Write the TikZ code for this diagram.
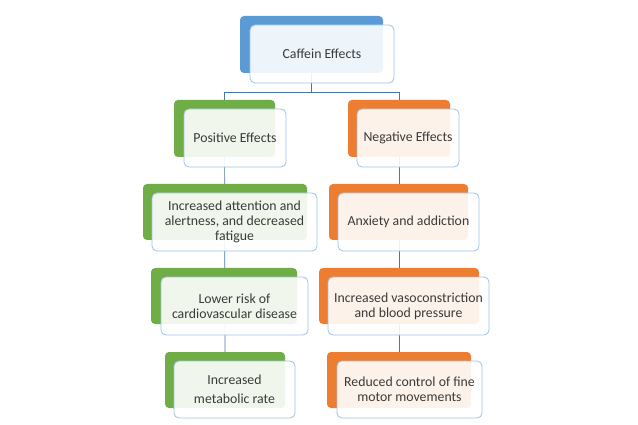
\documentclass[tikz,border=0pt]{standalone}
\usepackage{fontspec}
\setmainfont{Carlito}
\usetikzlibrary{backgrounds}
\definecolor{accblue}{HTML}{5B9BD5}
\definecolor{accgreen}{HTML}{70AD47}
\definecolor{accorange}{HTML}{ED7D31}
\definecolor{frontline}{HTML}{9DC3E6}
\definecolor{conn}{HTML}{4A78A6}
\definecolor{txt}{HTML}{3A3A3A}
\tikzset{
  backbox/.style={fill=#1, draw=none, rounded corners=4pt, inner sep=0pt, outer sep=0pt, anchor=north west},
  frontbox/.style={fill=white, fill opacity=0.9, text opacity=1, draw=frontline, line width=0.8pt,
    rounded corners=5pt, inner sep=0pt, outer sep=0pt, anchor=north west, align=center, text=txt,
    font=\fontsize{13.8}{15}\selectfont},
  connector/.style={draw=conn, line width=0.7pt}
}
\begin{document}
\begin{tikzpicture}[x=1pt,y=-1pt]
\useasboundingbox (0,0) rectangle (638,425);
% top
\node[backbox=accblue, minimum width=143pt, minimum height=57pt] (b0) at (240,16) {};
\node[frontbox, minimum width=144pt, minimum height=58pt] (f0) at (250,25) {Caffein Effects};
% level 1
\node[backbox=accgreen, minimum width=101pt, minimum height=57pt] (b1) at (174,100) {};
\node[frontbox, minimum width=102pt, minimum height=58pt] (f1) at (184,109) {Positive Effects};
\node[backbox=accorange, minimum width=102pt, minimum height=57pt] (b2) at (348,100) {};
\node[frontbox, minimum width=102pt, minimum height=58pt] (f2) at (357,109) {Negative Effects};
% level 2
\node[backbox=accgreen, minimum width=164pt, minimum height=56pt] (b3) at (143,184) {};
\node[frontbox, minimum width=165pt, minimum height=58pt] (f3) at (152,193) {Increased attention and\\alertness, and decreased\\fatigue};
\node[backbox=accorange, minimum width=139pt, minimum height=56pt] (b4) at (329,184) {};
\node[frontbox, minimum width=141pt, minimum height=58pt] (f4) at (338,193) {Anxiety and addiction};
% level 3
\node[backbox=accgreen, minimum width=146pt, minimum height=56pt] (b5) at (151,268) {};
\node[frontbox, minimum width=147pt, minimum height=58pt] (f5) at (161,277) {Lower risk of\\cardiovascular disease};
\node[backbox=accorange, minimum width=160pt, minimum height=56pt] (b6) at (319,268) {};
\node[frontbox, minimum width=161pt, minimum height=58pt] (f6) at (328,277) {Increased vasoconstriction\\and blood pressure};
% level 4
\node[backbox=accgreen, minimum width=120pt, minimum height=56pt] (b7) at (165,352) {};
\node[frontbox, minimum width=121pt, minimum height=57pt] (f7) at (174,361) {Increased\\[4pt]metabolic rate};
\node[backbox=accorange, minimum width=144pt, minimum height=56pt] (b8) at (327,352) {};
\node[frontbox, minimum width=145pt, minimum height=57pt] (f8) at (337,361) {Reduced control of fine\\motor movements};
\coordinate (j) at (311.5,92);
\begin{pgfonlayer}{background}
\fill[white] (0,0) rectangle (638,425);
\draw[connector] (b0.center) -- (b0.center |- j);
\draw[connector] (b1.center |- j) -- (b2.center |- j);
\draw[connector] (b1.center |- j) -- (b7.center);
\draw[connector] (b2.center |- j) -- (b8.center);
\end{pgfonlayer}
\end{tikzpicture}
\end{document}
